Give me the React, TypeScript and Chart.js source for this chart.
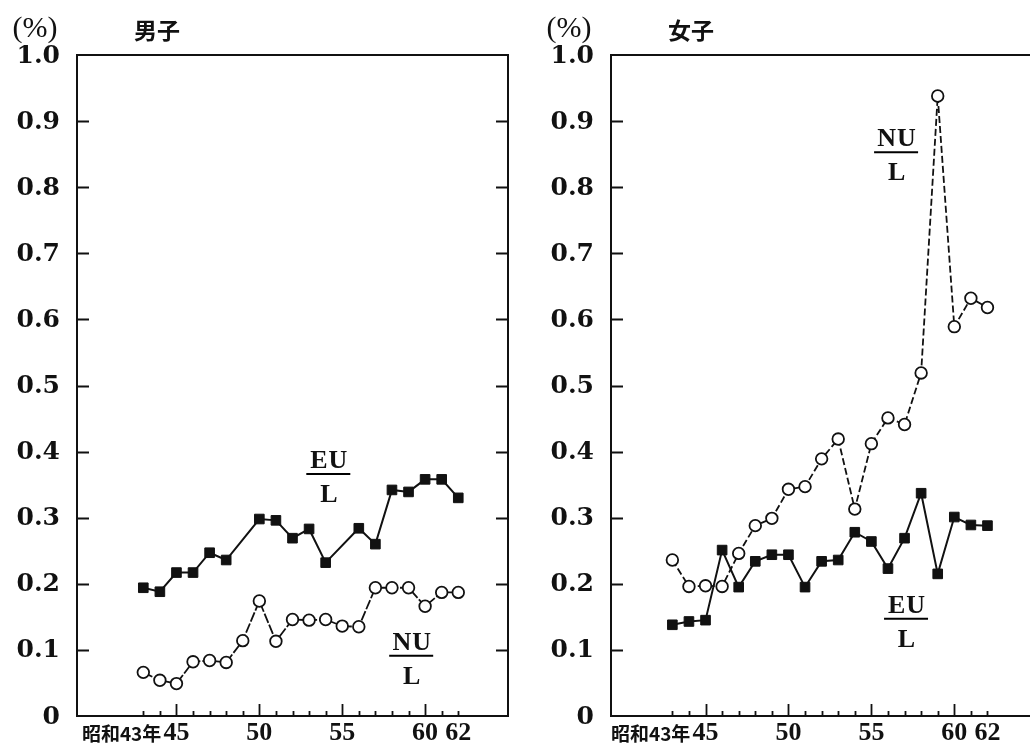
import { useEffect, useRef } from 'react';
import { Chart, registerables } from 'chart.js';

Chart.register(...registerables);

// ---- data ----
const years = [43, 44, 45, 46, 47, 48, 49, 50, 51, 52, 53, 54, 55, 56, 57, 58, 59, 60, 61, 62];
const maleEU = [0.194, 0.188, 0.217, 0.217, 0.247, 0.236, null, 0.298, 0.296, 0.269, 0.283, 0.232, null, 0.284, 0.26, 0.342, 0.339, 0.358, 0.358, 0.33];
const maleNU = [0.066, 0.054, 0.049, 0.082, 0.084, 0.081, 0.114, 0.174, 0.113, 0.146, 0.145, 0.146, 0.136, 0.135, 0.194, 0.194, 0.194, 0.166, 0.187, 0.187];
const femaleEU = [0.138, 0.143, 0.145, 0.251, 0.195, 0.234, 0.244, 0.244, 0.195, 0.234, 0.236, 0.278, 0.264, 0.223, 0.269, 0.337, 0.215, 0.301, 0.289, 0.288];
const femaleNU = [0.236, 0.196, 0.197, 0.196, 0.246, 0.288, 0.299, 0.343, 0.347, 0.389, 0.419, 0.313, 0.412, 0.451, 0.441, 0.519, 0.938, 0.589, 0.632, 0.618];
const yTicks = [0, 0.1, 0.2, 0.3, 0.4, 0.5, 0.6, 0.7, 0.8, 0.9, 1.0];
const yTickLabels = ['0', '0.1', '0.2', '0.3', '0.4', '0.5', '0.6', '0.7', '0.8', '0.9', '1.0'];
const xLabelYears = [43, 45, 50, 55, 60, 62];
const xLabels = ['昭和43年', '45', '50', '55', '60', '62'];
const majorYears = [45, 50, 55, 60];
const unitLabel = '(%)';
const panelTitles = ['男子', '女子'];

type Note = { num: string; x: number; y: number };

type PanelCfg = {
  title: string;
  eu: (number | null)[];
  nu: (number | null)[];
  xMin: number;
  xMax: number;
  width: number;
  padding: { left: number; right: number; top: number; bottom: number };
  nuDash: number[];
  notes: Note[];
};

const panels: PanelCfg[] = [
  {
    title: panelTitles[0],
    eu: maleEU,
    nu: maleNU,
    xMin: 39.0,
    xMax: 65.0,
    width: 520,
    padding: { left: 77, right: 12, top: 55, bottom: 33 },
    nuDash: [10, 2],
    notes: [
      { num: 'EU', x: 54.16, y: 0.366 },
      { num: 'NU', x: 59.16, y: 0.091 },
    ],
  },
  {
    title: panelTitles[1],
    eu: femaleEU,
    nu: femaleNU,
    xMin: 39.3,
    xMax: 65.3,
    width: 530,
    padding: { left: 91, right: 5, top: 55, bottom: 33 },
    nuDash: [7, 3],
    notes: [
      { num: 'NU', x: 56.49, y: 0.853 },
      { num: 'EU', x: 57.09, y: 0.147 },
    ],
  },
];

const SERIF = '"Liberation Serif", "DejaVu Serif", serif';
const CJK = '"Noto Sans CJK JP", "Noto Sans CJK SC", sans-serif';

function makeDecor(cfg: PanelCfg) {
  return {
    id: 'decor',
    beforeDatasetsDraw(chart: any) {
      const { ctx, chartArea: a, scales } = chart;
      const xs = scales.x;
      const ys = scales.y;
      ctx.save();
      ctx.strokeStyle = '#111';
      ctx.lineWidth = 2;
      ctx.strokeRect(a.left, a.top, a.right - a.left, a.bottom - a.top);
      ctx.lineWidth = 1.8;
      ctx.beginPath();
      yTicks.forEach((v) => {
        if (v <= 0 || v >= 1) return;
        const py = Math.round(ys.getPixelForValue(v)) + 0.5;
        ctx.moveTo(a.left, py);
        ctx.lineTo(a.left + 12, py);
        ctx.moveTo(a.right, py);
        ctx.lineTo(a.right - 12, py);
      });
      years.forEach((yr) => {
        const px = Math.round(xs.getPixelForValue(yr)) + 0.5;
        const len = majorYears.includes(yr) ? 12 : 5;
        ctx.moveTo(px, a.bottom);
        ctx.lineTo(px, a.bottom - len);
      });
      ctx.stroke();
      ctx.restore();
    },
    afterDraw(chart: any) {
      const { ctx, chartArea: a, scales } = chart;
      const xs = scales.x;
      const ys = scales.y;
      ctx.save();
      ctx.fillStyle = '#111';
      // y tick labels
      ctx.font = `bold 25px "DejaVu Serif", serif`;
      ctx.textAlign = 'right';
      ctx.textBaseline = 'middle';
      yTicks.forEach((v, i) => {
        ctx.fillText(yTickLabels[i], a.left - 17, ys.getPixelForValue(v) + 1);
      });
      // x tick labels
      ctx.textBaseline = 'middle';
      xLabelYears.forEach((yr, i) => {
        const px = xs.getPixelForValue(yr);
        if (i === 0) {
          ctx.font = `bold 19px ${CJK}`;
          ctx.textAlign = 'right';
          ctx.fillText(xLabels[i], px + 18, a.bottom + 18);
        } else {
          ctx.font = `bold 26px ${SERIF}`;
          ctx.textAlign = 'center';
          ctx.fillText(xLabels[i], px, a.bottom + 17);
        }
      });
      // header
      ctx.font = `30px ${SERIF}`;
      ctx.textAlign = 'center';
      ctx.fillText(unitLabel, a.left - 42, 29);
      ctx.font = `bold 23px ${CJK}`;
      ctx.fillText(cfg.title, a.left + 80, 30);
      // fraction notes
      cfg.notes.forEach((n) => {
        const cx = xs.getPixelForValue(n.x);
        const cy = ys.getPixelForValue(n.y);
        ctx.font = `bold 26px ${SERIF}`;
        (ctx as any).letterSpacing = '1px';
        ctx.textAlign = 'center';
        ctx.textBaseline = 'alphabetic';
        ctx.fillText(n.num, cx + 1, cy - 6);
        ctx.fillText('L', cx + 1, cy + 28);
        (ctx as any).letterSpacing = '0px';
        ctx.lineWidth = 2;
        ctx.beginPath();
        ctx.moveTo(cx - 22, cy);
        ctx.lineTo(cx + 22, cy);
        ctx.stroke();
      });
      ctx.restore();
    },
  };
}

function Panel({ cfg, left }: { cfg: PanelCfg; left: number }) {
  const ref = useRef<HTMLCanvasElement | null>(null);
  useEffect(() => {
    if (!ref.current) return;
    const toPts = (arr: (number | null)[]) => years.map((yr, i) => ({ x: yr, y: arr[i] }));
    const chart = new Chart(ref.current, {
      type: 'line',
      data: {
        datasets: [
          {
            label: 'EU/L',
            data: toPts(cfg.eu) as any,
            borderColor: '#111',
            backgroundColor: '#111',
            borderWidth: 2,
            pointStyle: 'rect',
            pointRadius: 6.8,
            pointBorderWidth: 1,
            pointBackgroundColor: '#111',
            pointBorderColor: '#111',
            spanGaps: true,
            tension: 0,
          },
          {
            label: 'NU/L',
            data: toPts(cfg.nu) as any,
            borderColor: '#111',
            backgroundColor: '#fff',
            borderWidth: 1.8,
            borderDash: cfg.nuDash,
            pointStyle: 'circle',
            pointRadius: 5.8,
            pointBorderWidth: 1.8,
            pointBackgroundColor: '#fff',
            pointBorderColor: '#111',
            spanGaps: true,
            tension: 0,
          },
        ],
      },
      options: {
        responsive: false,
        animation: false,
        devicePixelRatio: 1,
        layout: { padding: cfg.padding },
        plugins: { legend: { display: false }, tooltip: { enabled: false }, title: { display: false } },
        scales: {
          x: { type: 'linear', min: cfg.xMin, max: cfg.xMax, display: false },
          y: { type: 'linear', min: 0, max: 1, display: false },
        },
        events: [],
      },
      plugins: [makeDecor(cfg)],
    });
    return () => chart.destroy();
  }, [cfg]);
  return (
    <canvas
      ref={ref}
      width={cfg.width}
      height={749}
      style={{ position: 'absolute', left, top: 0, width: cfg.width, height: 749 }}
    />
  );
}

export default function App() {
  useEffect(() => {
    document.body.style.margin = '0';
    document.body.style.background = '#fff';
  }, []);
  return (
    <div style={{ position: 'relative', width: 1030, height: 749, overflow: 'hidden', background: '#fff' }}>
      <Panel cfg={panels[0]} left={0} />
      <Panel cfg={panels[1]} left={520} />
    </div>
  );
}
